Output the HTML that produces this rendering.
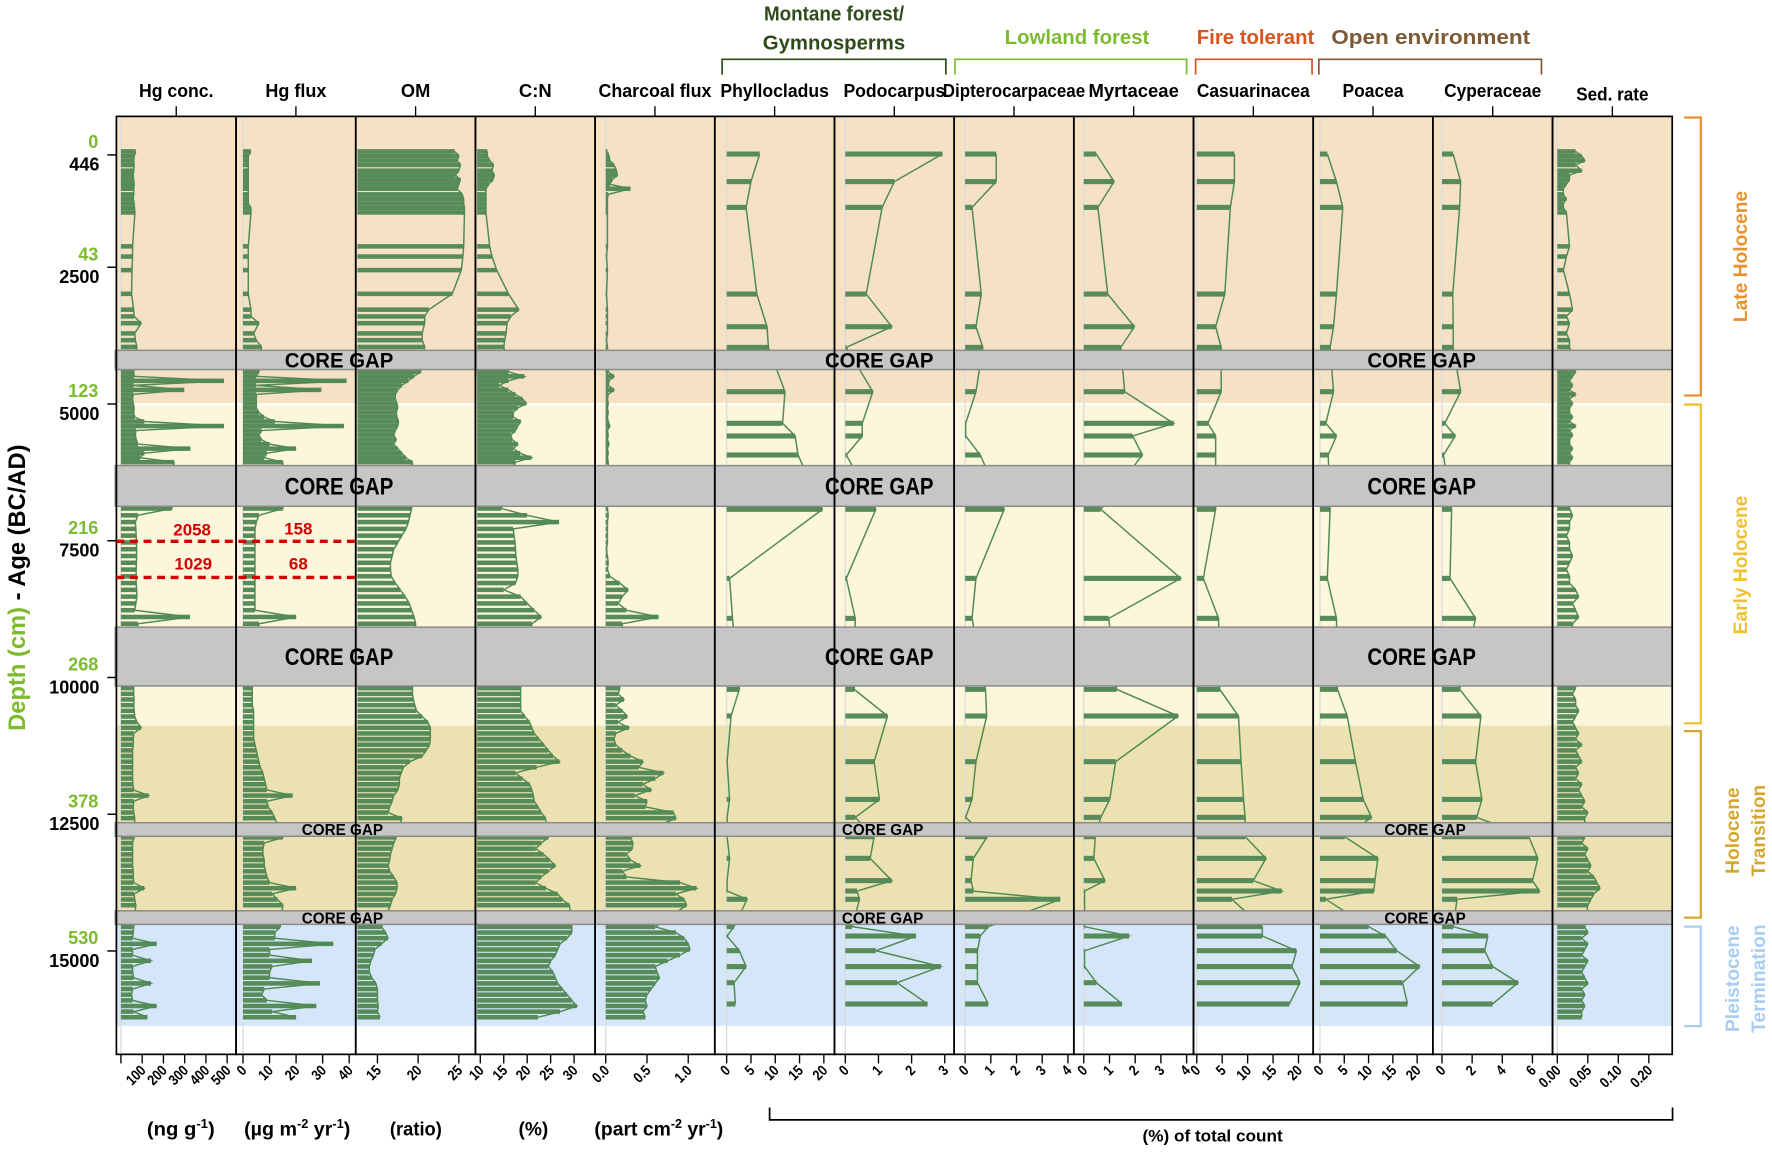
<!DOCTYPE html>
<html><head><meta charset="utf-8">
<style>
html,body{margin:0;padding:0;background:#fff;}
svg{display:block;}
text{font-family:"Liberation Sans",Arial,sans-serif;font-weight:bold;}
.n{font-family:"Liberation Sans Narrow","Liberation Sans",sans-serif;}
</style></head>
<body>
<svg id="chart" xmlns="http://www.w3.org/2000/svg" width="1772" height="1152" viewBox="0 0 1568 1019.4" preserveAspectRatio="none">
<g id="bg"></g>
<g id="marks"></g>
<g id="gaps"></g>
<g id="frames"></g>
<g id="ann">
 <text x="738" y="18" text-anchor="middle" fill="#2e4a1a" font-size="18" class="n" textLength="124" lengthAdjust="spacingAndGlyphs">Montane forest/</text>
 <text x="738" y="44" text-anchor="middle" fill="#2e4a1a" font-size="18" class="n" textLength="126" lengthAdjust="spacingAndGlyphs">Gymnosperms</text>
 <path d="M639 66V52.5H837V66" fill="none" stroke="#2e4a1a" stroke-width="1.5"/>
 <text x="953" y="39" text-anchor="middle" fill="#7dbb2e" font-size="18" class="n" textLength="128" lengthAdjust="spacingAndGlyphs">Lowland forest</text>
 <path d="M845 66V52.5H1050V66" fill="none" stroke="#7dbb2e" stroke-width="1.5"/>
 <text x="1111" y="39" text-anchor="middle" fill="#d9531e" font-size="18" class="n" textLength="104" lengthAdjust="spacingAndGlyphs">Fire tolerant</text>
 <path d="M1058 66V52.5H1161V66" fill="none" stroke="#d9531e" stroke-width="1.5"/>
 <text x="1266" y="39" text-anchor="middle" fill="#7b5a35" font-size="18" class="n" textLength="176" lengthAdjust="spacingAndGlyphs">Open environment</text>
 <path d="M1167 66V52.5H1364V66" fill="none" stroke="#7b5a35" stroke-width="1.5"/>
 <text transform="translate(22,520) rotate(-90)" text-anchor="middle" font-size="21"><tspan fill="#7dbb2e">Depth (cm)</tspan><tspan fill="#000"> - Age (BC/AD)</tspan></text>
 <g class="n" font-size="17" text-anchor="middle">
  <text x="160" y="1005" textLength="60" lengthAdjust="spacingAndGlyphs">(ng g<tspan font-size="11" dy="-7">-1</tspan><tspan dy="7">)</tspan></text>
  <text x="263" y="1005" textLength="94" lengthAdjust="spacingAndGlyphs">(µg m<tspan font-size="11" dy="-7">-2</tspan><tspan dy="7"> yr</tspan><tspan font-size="11" dy="-7">-1</tspan><tspan dy="7">)</tspan></text>
  <text x="368" y="1005" textLength="46" lengthAdjust="spacingAndGlyphs">(ratio)</text>
  <text x="472" y="1005">(%)</text>
  <text x="583" y="1005" textLength="114" lengthAdjust="spacingAndGlyphs">(part cm<tspan font-size="11" dy="-7">-2</tspan><tspan dy="7"> yr</tspan><tspan font-size="11" dy="-7">-1</tspan><tspan dy="7">)</tspan></text>
  <text x="1073" y="1010" font-size="15" textLength="124" lengthAdjust="spacingAndGlyphs">(%) of total count</text>
 </g>
 <path d="M681 980V991H1480V980" fill="none" stroke="#000" stroke-width="1.5"/>
 <line x1="103" y1="479" x2="314" y2="479" stroke="#d40000" stroke-width="3" stroke-dasharray="7,5"/>
 <line x1="103" y1="511" x2="314" y2="511" stroke="#d40000" stroke-width="3" stroke-dasharray="7,5"/>
 <g class="n" fill="#d40000" font-size="15" text-anchor="middle">
  <text x="170" y="474">2058</text>
  <text x="264" y="473">158</text>
  <text x="171" y="504">1029</text>
  <text x="264" y="504">68</text>
 </g>
 <path d="M1490 104H1505V350H1490" fill="none" stroke="#e8912d" stroke-width="2"/>
 <text transform="translate(1546,227) rotate(-90)" text-anchor="middle" fill="#e8912d" font-size="17" class="n">Late Holocene</text>
 <path d="M1490 358H1505V640H1490" fill="none" stroke="#f0c030" stroke-width="2"/>
 <text transform="translate(1546,500) rotate(-90)" text-anchor="middle" fill="#f0c030" font-size="17" class="n">Early Holocene</text>
 <path d="M1490 647H1505V812H1490" fill="none" stroke="#d4a830" stroke-width="2"/>
 <text transform="translate(1539,735) rotate(-90)" text-anchor="middle" fill="#d4a830" font-size="17" class="n">Holocene</text>
 <text transform="translate(1562,735) rotate(-90)" text-anchor="middle" fill="#d4a830" font-size="17" class="n">Transition</text>
 <path d="M1490 820H1505V908H1490" fill="none" stroke="#a8cdf0" stroke-width="2"/>
 <text transform="translate(1539,866) rotate(-90)" text-anchor="middle" fill="#a8cdf0" font-size="17" class="n">Pleistocene</text>
 <text transform="translate(1562,866) rotate(-90)" text-anchor="middle" fill="#a8cdf0" font-size="17" class="n">Termination</text>
</g>
<g id="axes"></g>
</svg>
<script>
// ---- data (ages BC/AD on y) ----
const chemAge = [382,465,548,630,734,816,899,982,1064,1167,1250,1333,1415,1498,2118,2304,2552,2986,3275,3399,3523,3709,3833,3957,
4411,4494,4576,4659,4742,4824,4907,4990,5072,5155,5238,5320,5403,5486,5568,5651,5734,5816,5899,5982,6064,
6911,7035,7159,7283,7407,7531,7655,7779,7903,8027,8150,8274,8398,8522,8646,8770,8894,9018,
10196,10300,10403,10506,10610,10713,10816,10919,11023,11126,11229,11333,11436,11539,11642,11746,11849,11952,12055,12159,12262,12365,12469,12572,
12924,13027,13130,13234,13337,13440,13544,13647,13750,13853,13957,14060,14163,
14560,14663,14766,14870,14973,15076,15180,15283,15386,15489,15593,15696,15799,15903,16006,16109,16212];
const hgConc = [70,62,60,62,60,58,60,62,60,60,58,62,64,66,55,55,52,50,60,62,95,65,68,75,
60,62,485,60,298,58,55,58,62,60,65,110,485,70,68,72,80,327,110,90,250,
240,80,68,70,72,73,74,74,73,72,72,72,74,75,70,65,325,80,
60,60,62,60,62,65,75,95,60,58,58,55,55,55,55,55,55,56,60,130,60,58,60,65,
62,55,55,55,55,55,58,58,60,110,62,65,70,
60,58,55,168,55,55,141,55,55,60,141,55,50,55,168,60,125];
const hgFlux = [3,2,2,2,2,2,2,2,2,2,2,2,3,3,2,2,2,2,3,3,6,4,5,7,
6,5,39,5,29.5,5,5,5,5,6,8,12,38,7,6,7,10,20,9,8,15,
15,6,5,4.5,4.5,4.5,4.5,4.5,4.5,4.5,4.5,4.5,4.5,4.5,4.5,4.5,20,6,
3.5,3.5,3.5,3.5,4,4,4,4,4,4,4.5,5,5.5,6,6.5,7.5,8,8.5,9,18.7,9,9.5,11,12,
15,8,7.5,7.5,8,8,8.5,9,10,20,11,13,15,
14,12,12,34,10,10,26,11,10,10,29,8,7,9,27.6,11,20];
const om = [24.5,25,24.8,25.2,25,24.6,25.2,25,24.8,25.4,25.6,25.6,25.7,25.7,25.6,25.5,25.3,24.2,21.3,20.8,20.8,20.5,20.5,20.8,
20.3,19.5,18.8,18,17.5,17.2,17.2,17.4,17.5,17.3,17.4,17.6,17.5,17.2,17,17.3,17,17.5,18,18.5,19.3,
19.2,19,18.8,18.5,18,17.5,17,16.8,16.6,16.6,16.7,17.2,17.8,18.4,18.9,19.2,19.5,19.7,
19.3,19.3,19.4,19.6,19.8,20.5,21.2,21.5,21.5,21.5,21.4,21,20.5,19,18.2,17.9,17.7,17.7,17.5,17,16.8,16.5,16.3,18,
17.3,17,16.8,16.6,16.5,16.3,16.5,17,17.4,17.4,17.2,16.8,16.6,
15.5,16,16.3,15.5,14.7,14.5,14.2,14,14,14.3,14.8,15,15,15,15.1,15,15.3];
const cn = [11.5,11.5,12,12.8,12.5,13,12.7,11.8,11.2,11.2,11.2,11.2,11.2,11.2,12,12.5,13.5,16,18.2,16.5,15.7,15.5,15.2,15,
16,19.4,16,14,16,17.5,19,19.8,18,17,17,18.6,18,17.5,16.5,16.8,18,17,18.5,20.9,17.5,
14.5,20,26.8,17,17.2,17.4,17.5,17.6,17.8,18,18,17.5,15,18.6,20,21.5,23,21,
18.6,18.6,18.6,18.6,18.6,19.5,20.5,21,21.5,22.5,23.5,24.5,25.5,26.9,22,17.5,19,20.5,21,21.3,21.5,22.3,23,23.9,
24.5,23,21.8,23.5,24.8,26,24.5,23,21.8,24,26.5,27.5,29,
29.5,29.5,28.5,27,26.5,26,25,24.5,25.5,26,26.5,27.5,28.5,29.5,30.6,27,22.3];
const charcoal = [0.02,0.04,0.05,0.1,0.13,0.14,0.08,0.05,0.3,0.03,0.02,0.02,0.02,0.02,0.02,0.01,0.02,0.01,0.02,0.02,0.02,0.02,0.01,0.02,
0.03,0.1,0.04,0.03,0.1,0.03,0.02,0.03,0.02,0.03,0.02,0.03,0.05,0.02,0.03,0.02,0.04,0.02,0.03,0.02,0.03,
0.02,0.03,0.02,0.02,0.02,0.02,0.01,0.02,0.03,0.02,0.05,0.17,0.27,0.2,0.15,0.25,0.64,0.2,
0.17,0.15,0.22,0.12,0.2,0.26,0.15,0.28,0.12,0.1,0.12,0.2,0.3,0.45,0.4,0.7,0.6,0.45,0.55,0.35,0.5,0.48,0.82,0.85,
0.3,0.33,0.32,0.25,0.3,0.42,0.2,0.25,0.9,1.1,0.85,0.95,0.98,
0.6,0.85,0.95,1.0,1.02,0.9,0.75,0.6,0.62,0.65,0.6,0.55,0.5,0.48,0.5,0.45,0.48];
const sedRate = [0.03,0.04,0.045,0.03,0.04,0.02,0.02,0.015,0.01,0.01,0.015,0.01,0.01,0.015,0.02,0.015,0.01,0.02,0.025,0.015,0.02,0.015,0.02,0.02,
0.03,0.025,0.02,0.025,0.02,0.03,0.02,0.025,0.02,0.02,0.025,0.02,0.03,0.02,0.025,0.02,0.02,0.025,0.02,0.025,0.02,
0.02,0.025,0.02,0.02,0.015,0.02,0.02,0.025,0.02,0.015,0.02,0.02,0.03,0.035,0.025,0.03,0.035,0.025,
0.03,0.025,0.03,0.03,0.035,0.03,0.025,0.03,0.035,0.03,0.04,0.03,0.035,0.04,0.03,0.035,0.03,0.04,0.035,0.04,0.045,0.04,0.05,0.045,
0.045,0.04,0.05,0.045,0.05,0.055,0.05,0.06,0.065,0.07,0.06,0.055,0.05,
0.045,0.05,0.04,0.05,0.045,0.04,0.05,0.045,0.04,0.045,0.05,0.04,0.045,0.04,0.045,0.04,0.04];
const pollenAge = [430,934,1405,2990,3587,3965,4775,5353,5585,5932,6925,8188,8919,10217,10704,11539,12229,12557,12911,13307,13714,13904,14055,14555,14727,14995,15286,15580,15970];
const phyllocladus = [6.8,5,4,6.2,8.3,8.6,12,11.5,14.1,14.7,19.7,0.6,1.2,2.6,0.9,0.1,0.6,0.1,0.1,0.6,0.1,0.1,4.2,1.5,0.1,2.6,4,1.5,1.8];
const podocarpus = [2.93,1.48,1.11,0.63,1.4,0.03,0.83,0.51,0.51,0.03,0.92,0.03,0.3,0.27,1.27,0.87,1.03,0.3,0.87,0.75,1.4,0.35,0.43,0.2,2.13,0.92,2.88,1.56,2.48];
const dipterocarpaceae = [1.21,1.21,0.27,0.63,0.42,0.69,0.42,0.02,0.02,0.59,1.52,0.42,0.27,0.79,0.84,0.42,0.27,0.02,0.86,0.32,0.23,0.32,3.7,0.9,0.59,0.48,0.48,0.48,0.9];
const myrtaceae = [0.49,1.18,0.55,0.93,1.97,1.44,1.59,3.5,1.9,2.28,0.66,3.77,0.97,1.28,3.67,1.24,1.01,0.66,0.45,0.39,0.82,0.03,0.03,0.03,1.76,0.03,0.03,0.49,1.49];
const casuarinacea = [7.4,7.4,6.6,5.5,3.7,4.8,4.8,2.2,3.7,3.7,3.7,1.3,4.3,4.5,8.2,8.7,9.2,9.5,9.5,13.6,11.1,16.7,6.9,12.9,12.9,19.6,18.7,20.3,18.2];
const poacea = [1.5,3.4,4.7,3.4,2.8,2.1,2.8,1.2,3.4,1.7,2.1,1.5,3.4,3.6,5.6,7.3,8.9,10.6,5.1,11.9,11.3,11.1,1.2,10,13.5,15.8,20.5,17,18];
const cyperaceae = [0.74,1.24,1.17,0.71,0.74,0.74,1.24,0.18,0.88,0.1,0.64,0.53,2.23,1.17,2.58,2.23,2.65,2.3,5.76,6.36,6,6.47,1.0,0.74,3.04,2.83,3.36,5.05,3.36];
const gapStart = [4019,6126,9080,12655,14266];
const gapEnd = [4370,6870,10155,12903,14514];
const periodStart = [-260,5000,10880,14266];
const periodEnd = [5000,10880,14266,16373];
const ageTicks = [446,2500,5000,7500,10000,12500,15000];
const ageTickLabels = ["446","2500","5000","7500","10000","12500","15000"];
const depthLabels = ["0","43","123","216","268","378","530"];

// ---- layout ----
const NS = "http://www.w3.org/2000/svg";
const TOP = 103, BOT = 933, PW = 105.9, X0 = 103;
function yAge(a){ return 236.5 + (a - 2500) * 0.0484; }
function mk(tag, parent){ const e = document.createElementNS(NS, tag); parent.appendChild(e); return e; }
const panels = [
 {key:'hg-conc', title:'Hg conc.', tl:66, age:chemAge, vals:hgConc, d0:0, d1:500, p0:107, p1:201, base:0, bh:4, ticks:[0,100,200,300,400,500], labels:["","100","200","300","400","500"]},
 {key:'hg-flux', title:'Hg flux', tl:54, age:chemAge, vals:hgFlux, d0:0, d1:40, p0:215, p1:309, base:0, bh:4, ticks:[0,10,20,30,40], labels:["0","10","20","30","40"]},
 {key:'om', title:'OM', tl:26, age:chemAge, vals:om, d0:15, d1:25, p0:334, p1:406, base:12.3, bh:4, ticks:[15,20,25], labels:["15","20","25"]},
 {key:'cn', title:'C:N', tl:29, age:chemAge, vals:cn, d0:10, d1:30, p0:425, p1:508, base:8.9, bh:4, ticks:[10,15,20,25,30], labels:["10","15","20","25","30"]},
 {key:'charcoal-flux', title:'Charcoal flux', tl:100, age:chemAge, vals:charcoal, d0:0, d1:1, p0:536, p1:609, base:0, bh:4, ticks:[0,0.5,1], labels:["0.0","0.5","1.0"]},
 {key:'phyllocladus', title:'Phyllocladus', tl:96, age:pollenAge, vals:phyllocladus, d0:0, d1:20, p0:643, p1:729, base:0, bh:4.5, ticks:[0,5,10,15,20], labels:["0","5","10","15","20"]},
 {key:'podocarpus', title:'Podocarpus', tl:90, age:pollenAge, vals:podocarpus, d0:0, d1:3, p0:748, p1:836, base:0, bh:4.5, ticks:[0,1,2,3], labels:["0","1","2","3"]},
 {key:'dipterocarpaceae', title:'Dipterocarpaceae', tl:126, age:pollenAge, vals:dipterocarpaceae, d0:0, d1:4, p0:854, p1:945, base:0, bh:4.5, ticks:[0,1,2,3,4], labels:["0","1","2","3","4"]},
 {key:'myrtaceae', title:'Myrtaceae', tl:80, age:pollenAge, vals:myrtaceae, d0:0, d1:4, p0:959, p1:1050, base:0, bh:4.5, ticks:[0,1,2,3,4], labels:["0","1","2","3","4"]},
 {key:'casuarinacea', title:'Casuarinacea', tl:100, age:pollenAge, vals:casuarinacea, d0:0, d1:20, p0:1059, p1:1149, base:0, bh:4.5, ticks:[0,5,10,15,20], labels:["0","5","10","15","20"]},
 {key:'poacea', title:'Poacea', tl:54, age:pollenAge, vals:poacea, d0:0, d1:20, p0:1168, p1:1254, base:0, bh:4.5, ticks:[0,5,10,15,20], labels:["0","5","10","15","20"]},
 {key:'cyperaceae', title:'Cyperaceae', tl:86, age:pollenAge, vals:cyperaceae, d0:0, d1:6, p0:1276, p1:1356, base:0, bh:4.5, ticks:[0,2,4,6], labels:["0","2","4","6"]},
 {key:'sed-rate', title:'Sed. rate', tl:64, age:chemAge, vals:sedRate, d0:0, d1:0.15, p0:1378, p1:1459, base:0, bh:4, ticks:[0,0.05,0.1,0.15], labels:["0.00","0.05","0.10","0.20"]}
];
const bgColors = ['#f5e1c3','#fcf6dc','#ece1b0','#d4e6f8'];
const bg = document.getElementById('bg');
for (let i = 0; i < periodStart.length; i++) {
  const r = mk('rect', bg);
  
  
  const y1 = Math.max(TOP, yAge(periodStart[i])), y2 = yAge(periodEnd[i]);
  r.setAttribute('x', X0); r.setAttribute('y', y1); r.setAttribute('width', PW*13); r.setAttribute('height', y2 - y1);
  r.setAttribute('fill', bgColors[i]);
}
const sep = mk('line', bg);


sep.setAttribute('x1', X0); sep.setAttribute('x2', X0+PW*13); sep.setAttribute('y1', yAge(5000)); sep.setAttribute('y2', yAge(5000));
sep.setAttribute('stroke', '#fff'); sep.setAttribute('stroke-width', '1.5');

const marks = document.getElementById('marks');
const axes = document.getElementById('axes');
const frames = document.getElementById('frames');
panels.forEach((p, i) => {
  const left = X0 + i*PW;
  const xs = v => p.p0 + (v - p.d0) * (p.p1 - p.p0) / (p.d1 - p.d0);
  const g = mk('g', marks);
  
  
  const z = mk('line', g);
  
  
  z.setAttribute('x1', xs(p.base)); z.setAttribute('x2', xs(p.base)); z.setAttribute('y1', TOP); z.setAttribute('y2', BOT);
  z.setAttribute('stroke', '#dcdcdc'); z.setAttribute('stroke-width', '1.2');
  const x0 = Math.max(left + 1.5, xs(p.base));
  const pts = [];
  p.vals.forEach((v, j) => {
    const y = yAge(p.age[j]);
    const b = mk('rect', g);
    
    
    b.setAttribute('x', x0); b.setAttribute('y', y - p.bh/2);
    b.setAttribute('width', Math.max(0.5, xs(v) - x0)); b.setAttribute('height', p.bh);
    b.setAttribute('fill', '#578b59');
    pts.push(xs(v).toFixed(1) + ',' + y.toFixed(1));
  });
  const ln = mk('polyline', g);
  
  
  ln.setAttribute('points', pts.join(' '));
  ln.setAttribute('fill', 'none'); ln.setAttribute('stroke', '#4f8a52'); ln.setAttribute('stroke-width', '1.3');
  const fr = mk('rect', frames);
  
  
  fr.setAttribute('x', left); fr.setAttribute('y', TOP); fr.setAttribute('width', PW); fr.setAttribute('height', BOT - TOP);
  fr.setAttribute('fill', 'none'); fr.setAttribute('stroke', '#000'); fr.setAttribute('stroke-width', '1.5');
  const h = mk('text', axes);
  
  
  h.setAttribute('x', left + PW/2); h.setAttribute('y', p.key === 'sed-rate' ? 89 : 86);
  h.setAttribute('text-anchor', 'middle'); h.setAttribute('font-size', '16'); h.setAttribute('class', 'n');
  h.setAttribute('textLength', p.tl); h.setAttribute('lengthAdjust', 'spacingAndGlyphs');
  h.textContent = p.title;
  const ht = mk('line', axes);
  
  
  ht.setAttribute('x1', left + PW/2); ht.setAttribute('x2', left + PW/2); ht.setAttribute('y1', 94); ht.setAttribute('y2', TOP);
  ht.setAttribute('stroke', '#000'); ht.setAttribute('stroke-width', '1.2');
  p.ticks.forEach((t, k) => {
    const tx = xs(t);
    const tk = mk('line', axes);
    
    
    tk.setAttribute('x1', tx); tk.setAttribute('x2', tx); tk.setAttribute('y1', BOT); tk.setAttribute('y2', BOT + 8);
    tk.setAttribute('stroke', '#000'); tk.setAttribute('stroke-width', '1.2');
    if (p.labels[k]) {
      const tl = mk('text', axes);
      
      
      tl.setAttribute('transform', 'translate(' + (tx + 4) + ',' + (BOT + 15) + ') rotate(-45) scale(0.85,1)');
      tl.setAttribute('text-anchor', 'end'); tl.setAttribute('font-size', '13'); tl.setAttribute('class', 'n');
      tl.textContent = p.labels[k];
    }
  });
});
const gapsG = document.getElementById('gaps');
gapStart.forEach((s, i) => {
  const y1 = yAge(s), y2 = yAge(gapEnd[i]);
  const r = mk('rect', gapsG);
  
  
  r.setAttribute('x', X0 - 1); r.setAttribute('y', y1); r.setAttribute('width', PW*13 + 1); r.setAttribute('height', y2 - y1);
  r.setAttribute('fill', '#c6c6c6'); r.setAttribute('stroke', '#8a8a8a'); r.setAttribute('stroke-width', '1.3');
  const small = (y2 - y1) < 14;
  const fs = small ? 14 : ((y2 - y1) < 20 ? 19 : 21);
  const tw = small ? 72 : 96;
  [300, 778, 1258].forEach(cx => {
    const t = mk('text', gapsG);
    
    
    t.setAttribute('x', small ? cx + 3 : cx); t.setAttribute('y', (y1 + y2)/2 + fs*0.36);
    t.setAttribute('text-anchor', 'middle'); t.setAttribute('font-size', fs); t.setAttribute('class', 'n');
    t.setAttribute('textLength', tw); t.setAttribute('lengthAdjust', 'spacingAndGlyphs');
    t.textContent = 'CORE GAP';
  });
});
ageTicks.forEach((a, i) => {
  const y = yAge(a);
  const tk = mk('line', axes);
  
  
  tk.setAttribute('x1', 95); tk.setAttribute('x2', X0); tk.setAttribute('y1', y); tk.setAttribute('y2', y);
  tk.setAttribute('stroke', '#000'); tk.setAttribute('stroke-width', '1.3');
  const al = mk('text', axes);
  
  
  al.setAttribute('x', 88); al.setAttribute('y', y + 14); al.setAttribute('text-anchor', 'end'); al.setAttribute('font-size', '16');
  al.textContent = ageTickLabels[i];
  const dl = mk('text', axes);
  
  
  dl.setAttribute('x', 87); dl.setAttribute('y', y - 6); dl.setAttribute('text-anchor', 'end'); dl.setAttribute('font-size', '16');
  dl.setAttribute('fill', '#7dbb2e');
  dl.textContent = depthLabels[i];
});
</script>
</body></html>
